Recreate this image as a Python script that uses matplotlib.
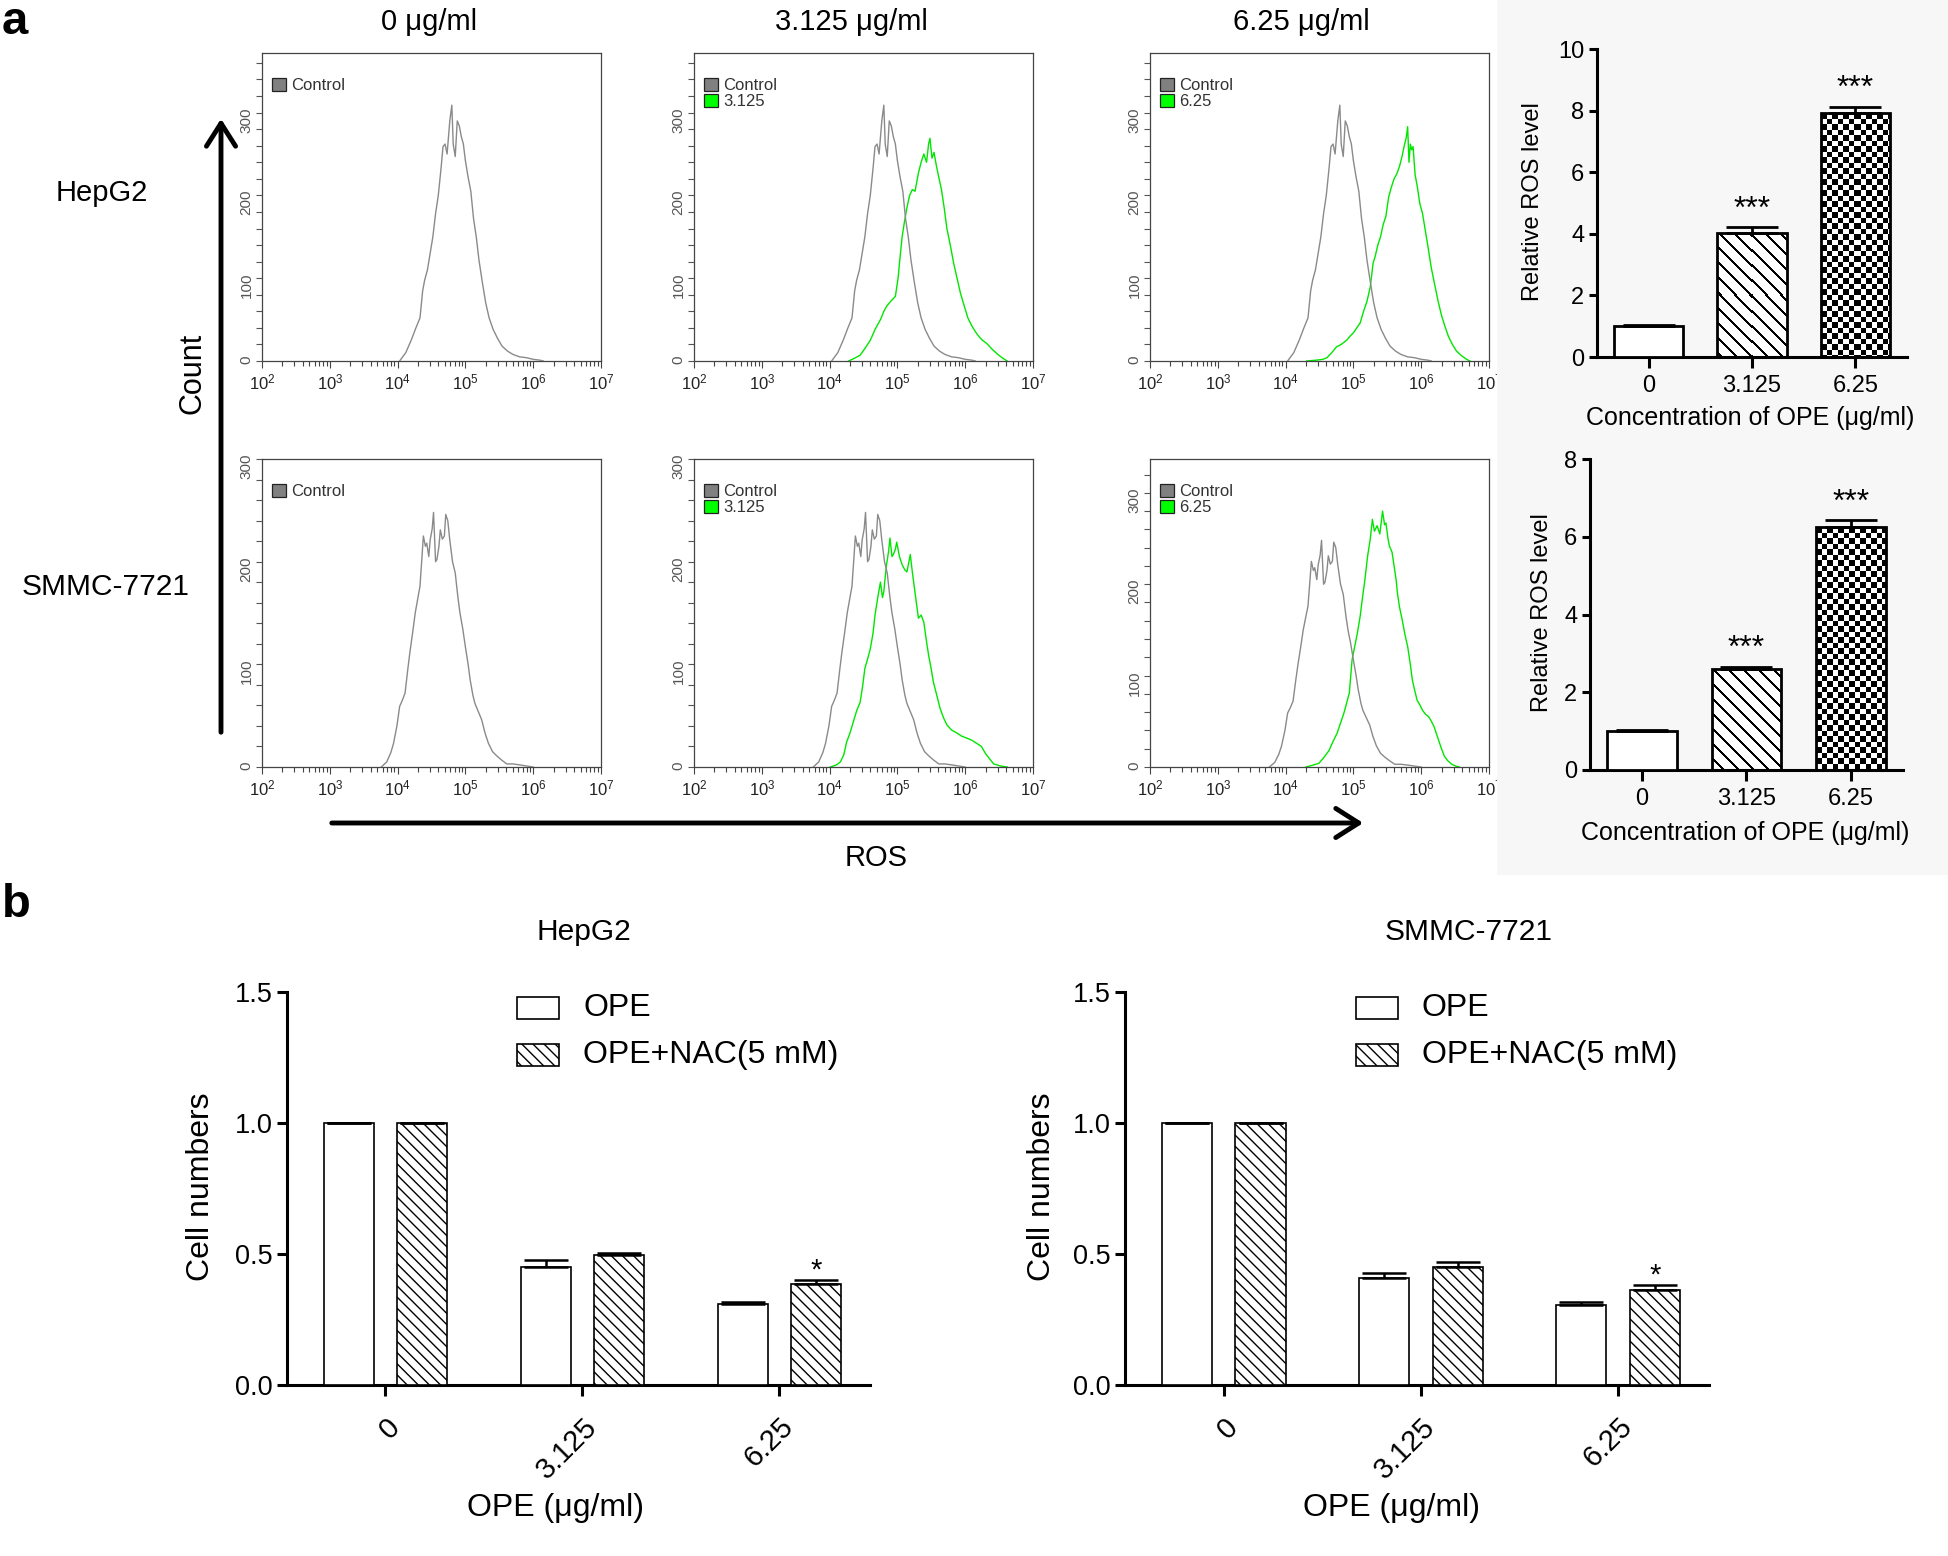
import numpy as np
import matplotlib
matplotlib.use('Agg')
import matplotlib.pyplot as plt
from matplotlib.patches import Rectangle, FancyArrowPatch
from matplotlib.ticker import FixedLocator, MultipleLocator, LogLocator, FuncFormatter, NullFormatter

plt.rcParams['font.family'] = ['Liberation Sans', 'DejaVu Sans']
plt.rcParams['mathtext.default'] = 'regular'

# ---------------- data ----------------
# flow cytometry histograms: log10(fluorescence) vs count
hep_ctrl_x = [4.03, 4.12, 4.20, 4.27, 4.33, 4.37, 4.40, 4.44, 4.48, 4.52, 4.56, 4.60, 4.64, 4.67, 4.70, 4.73,
              4.77, 4.80, 4.82, 4.85, 4.88, 4.91, 4.94, 4.97, 5.00, 5.04, 5.08, 5.12, 5.16, 5.20, 5.25, 5.30,
              5.35, 5.41, 5.47, 5.54, 5.62, 5.70, 5.80, 5.90, 6.00, 6.10, 6.15]
hep_ctrl_y = [0, 10, 25, 40, 52, 85, 98, 110, 130, 150, 178, 200, 232, 259, 262, 250, 290, 309, 262, 247, 290,
              284, 271, 262, 242, 222, 205, 172, 150, 122, 95, 70, 52, 38, 28, 18, 12, 8, 5, 4, 2, 1, 0]

hep_3125_x = [4.28, 4.36, 4.45, 4.52, 4.60, 4.67, 4.75, 4.80, 4.84, 4.90, 4.97, 5.01, 5.04, 5.07, 5.10, 5.14,
              5.18, 5.22, 5.26, 5.31, 5.35, 5.39, 5.43, 5.46, 5.48, 5.51, 5.54, 5.57, 5.61, 5.65, 5.69, 5.73,
              5.78, 5.83, 5.88, 5.93, 5.98, 6.04, 6.10, 6.17, 6.24, 6.32, 6.40, 6.48, 6.56, 6.62]
hep_3125_y = [0, 3, 7, 15, 25, 38, 50, 60, 66, 72, 78, 100, 126, 150, 166, 185, 200, 207, 205, 227, 240, 250,
              240, 262, 269, 245, 252, 238, 222, 207, 185, 160, 140, 118, 100, 82, 68, 52, 42, 33, 26, 21, 14,
              8, 3, 0]

hep_625_x = [4.31, 4.45, 4.55, 4.61, 4.68, 4.75, 4.82, 4.90, 4.95, 5.00, 5.05, 5.10, 5.15, 5.20, 5.25, 5.29,
             5.32, 5.36, 5.40, 5.44, 5.48, 5.52, 5.56, 5.60, 5.64, 5.68, 5.72, 5.75, 5.78, 5.80, 5.82, 5.84,
             5.86, 5.88, 5.91, 5.94, 5.98, 6.02, 6.06, 6.10, 6.15, 6.20, 6.25, 6.30, 6.35, 6.40, 6.46, 6.52,
             6.60, 6.67, 6.72]
hep_625_y = [0, 1, 2, 4, 10, 17, 20, 25, 30, 34, 40, 46, 60, 72, 90, 118, 126, 140, 150, 165, 175, 198, 210,
             220, 226, 235, 248, 260, 270, 283, 240, 262, 255, 259, 225, 212, 190, 178, 158, 138, 112, 92, 72,
             55, 42, 30, 20, 12, 6, 2, 0]

smmc_ctrl_x = [3.76, 3.84, 3.90, 3.94, 3.99, 4.03, 4.07, 4.11, 4.15, 4.18, 4.22, 4.26, 4.30, 4.33, 4.36, 4.38,
               4.41, 4.43, 4.46, 4.48, 4.51, 4.53, 4.56, 4.58, 4.61, 4.63, 4.66, 4.69, 4.71, 4.74, 4.77, 4.81,
               4.85, 4.89, 4.92, 4.96, 5.00, 5.04, 5.07, 5.11, 5.14, 5.19, 5.24, 5.29, 5.34, 5.40, 5.46, 5.53,
               5.61, 5.70, 5.81, 5.90, 6.00]
smmc_ctrl_y = [0, 5, 14, 23, 40, 59, 65, 72, 95, 111, 130, 150, 165, 176, 205, 225, 215, 218, 205, 221, 232,
               248, 200, 202, 215, 231, 222, 225, 246, 240, 221, 200, 189, 165, 150, 135, 117, 100, 85, 70, 62,
               54, 46, 33, 23, 15, 11, 7, 3, 3, 2, 1, 0]

smmc_3125_x = [4.01, 4.10, 4.16, 4.21, 4.25, 4.30, 4.35, 4.40, 4.45, 4.49, 4.52, 4.56, 4.60, 4.64, 4.67, 4.71,
               4.75, 4.78, 4.80, 4.82, 4.84, 4.87, 4.89, 4.92, 4.94, 4.97, 4.99, 5.03, 5.07, 5.11, 5.14, 5.17,
               5.19, 5.22, 5.24, 5.28, 5.31, 5.35, 5.39, 5.43, 5.46, 5.50, 5.53, 5.58, 5.63, 5.68, 5.73, 5.80,
               5.88, 5.95, 6.03, 6.10, 6.17, 6.24, 6.30, 6.36, 6.42, 6.52, 6.62]
smmc_3125_y = [0, 2, 5, 12, 24, 33, 44, 55, 63, 80, 96, 105, 115, 130, 148, 165, 180, 165, 171, 185, 197, 210,
               223, 205, 207, 212, 219, 205, 197, 192, 190, 200, 207, 190, 180, 160, 145, 148, 141, 122, 109, 95,
               83, 70, 57, 48, 41, 36, 33, 30, 28, 26, 23, 20, 13, 8, 3, 1, 0]

smmc_625_x = [4.30, 4.40, 4.49, 4.56, 4.64, 4.70, 4.76, 4.81, 4.86, 4.90, 4.94, 4.98, 5.02, 5.06, 5.10, 5.13,
              5.17, 5.21, 5.25, 5.28, 5.31, 5.35, 5.39, 5.43, 5.46, 5.48, 5.51, 5.53, 5.57, 5.60, 5.63, 5.65,
              5.68, 5.72, 5.76, 5.80, 5.84, 5.87, 5.91, 5.94, 5.98, 6.02, 6.06, 6.11, 6.15, 6.19, 6.24, 6.29,
              6.34, 6.39, 6.45, 6.51, 6.56]
smmc_625_y = [0, 2, 4, 10, 18, 28, 37, 48, 59, 70, 81, 117, 132, 147, 165, 183, 205, 231, 250, 271, 258, 264,
              255, 280, 265, 267, 250, 242, 235, 220, 205, 190, 175, 161, 145, 132, 112, 95, 82, 73, 68, 62, 58,
              55, 50, 44, 33, 22, 12, 7, 3, 1, 0]

dose_headers = ['0 \u03bcg/ml', '3.125 \u03bcg/ml', '6.25 \u03bcg/ml']
treat_labels = ['', '3.125', '6.25']
cell_lines = ['HepG2', 'SMMC-7721']
flow_ymax = [[372, 372, 372], [300, 300, 337]]

# relative ROS level (part a, right)
conc_labels = ['0', '3.125', '6.25']
ros_hep = [1.0, 4.03, 7.92]
ros_hep_err = [0.03, 0.18, 0.21]
ros_smmc = [1.0, 2.59, 6.25]
ros_smmc_err = [0.02, 0.07, 0.17]
ros_sig = ['', '***', '***']

# cell numbers (part b)
cell_hep_ope = [1.0, 0.449, 0.309]
cell_hep_ope_err = [0.0, 0.027, 0.008]
cell_hep_nac = [1.0, 0.497, 0.384]
cell_hep_nac_err = [0.0, 0.007, 0.018]
cell_smmc_ope = [1.0, 0.407, 0.304]
cell_smmc_ope_err = [0.0, 0.020, 0.014]
cell_smmc_nac = [1.0, 0.451, 0.363]
cell_smmc_nac_err = [0.0, 0.020, 0.019]
nac_sig = ['', '', '*']

# ---------------- figure ----------------
W, H = 1949, 1556
fig = plt.figure(figsize=(W / 100, H / 100), dpi=100)


def px_axes(l, t, r, b):
    return fig.add_axes([l / W, 1 - b / H, (r - l) / W, (b - t) / H])


# light background of the right column
bg = Rectangle((1497 / W, 1 - 875 / H), (W - 1497) / W, 875 / H, transform=fig.transFigure,
               facecolor='#f7f7f7', edgecolor='none', zorder=1)
fig.add_artist(bg)

flow_data = [
    [(hep_ctrl_x, hep_ctrl_y, None, None),
     (hep_ctrl_x, hep_ctrl_y, hep_3125_x, hep_3125_y),
     (hep_ctrl_x, hep_ctrl_y, hep_625_x, hep_625_y)],
    [(smmc_ctrl_x, smmc_ctrl_y, None, None),
     (smmc_ctrl_x, smmc_ctrl_y, smmc_3125_x, smmc_3125_y),
     (smmc_ctrl_x, smmc_ctrl_y, smmc_625_x, smmc_625_y)],
]
flow_cols_px = [(262, 601), (694, 1033), (1150, 1489)]
flow_rows_px = [(53, 361), (459, 767)]
narrow = ['Liberation Sans Narrow', 'Liberation Sans', 'DejaVu Sans']

for r in range(2):
    for c in range(3):
        l, rr = flow_cols_px[c]
        t, b = flow_rows_px[r]
        ax = px_axes(l, t, rr, b)
        cx, cy, tx, ty = flow_data[r][c]
        ax.plot(10 ** np.array(cx), cy, color='#8a8a8a', lw=1.0, zorder=3)
        if tx is not None:
            ax.plot(10 ** np.array(tx), ty, color='#00e600', lw=1.0, zorder=2)
        ax.set_xscale('log')
        ax.set_xlim(1e2, 1e7)
        ax.set_ylim(0, flow_ymax[r][c])
        ax.xaxis.set_major_locator(LogLocator(base=10, numticks=10))
        ax.xaxis.set_minor_locator(LogLocator(base=10, subs=np.arange(2, 10), numticks=100))
        ax.xaxis.set_minor_formatter(NullFormatter())
        ax.xaxis.set_major_formatter(FuncFormatter(lambda v, p: r'$10^{%d}$' % int(round(np.log10(v)))))
        ax.yaxis.set_major_locator(FixedLocator([0, 100, 200, 300]))
        ax.yaxis.set_minor_locator(MultipleLocator(20))
        ax.tick_params(axis='x', which='major', direction='out', length=5, width=0.8, colors='#444',
                       labelsize=12, pad=3, labelcolor='#222')
        ax.tick_params(axis='x', which='minor', direction='out', length=3.5, width=0.8, colors='#444')
        ax.tick_params(axis='y', which='both', direction='out', length=4, width=0.8, colors='#555',
                       labelsize=11, labelrotation=90, pad=2, labelcolor='#555')
        for lbl in ax.get_yticklabels():
            lbl.set_family(narrow)
        for sp in ax.spines.values():
            sp.set_linewidth(0.9)
            sp.set_color('#444')
        # legend squares
        entries = [('Control', '#808080')]
        if treat_labels[c]:
            entries.append((treat_labels[c], '#00ff00'))
        for i, (name, col) in enumerate(entries):
            y0 = 0.876 - i * 0.052
            ax.add_patch(Rectangle((0.03, y0), 0.040, 0.044, transform=ax.transAxes, facecolor=col,
                                   edgecolor='#222', lw=0.9, clip_on=False, zorder=5))
            ax.text(0.085, y0 + 0.020, name, transform=ax.transAxes, fontsize=12, color='#333',
                    ha='left', va='center')

# column headers and row labels
for c, txt in enumerate(dose_headers):
    fig.text([429, 851, 1301][c] / W, 1 - 22 / H, txt, fontsize=21, ha='center', va='center')
fig.text(102 / W, 1 - 193 / H, cell_lines[0], fontsize=21, ha='center', va='center')
fig.text(106 / W, 1 - 587 / H, cell_lines[1], fontsize=21.5, ha='center', va='center')
fig.text(193 / W, 1 - 373 / H, 'Count', fontsize=22, ha='center', va='center', rotation=90)
fig.text(876 / W, 1 - 858 / H, 'ROS', fontsize=21, ha='center', va='center')

arrow_style = '->,head_length=0.55,head_width=0.35'
fig.add_artist(FancyArrowPatch((221 / W, 1 - 735 / H), (221 / W, 1 - 116 / H), transform=fig.transFigure,
                               arrowstyle=arrow_style, mutation_scale=30, lw=3.5, color='black'))
fig.add_artist(FancyArrowPatch((329 / W, 1 - 823 / H), (1366 / W, 1 - 823 / H), transform=fig.transFigure,
                               arrowstyle=arrow_style, mutation_scale=30, lw=3.5, color='black'))

fig.text(2 / W, 1 - 34 / H, 'a', fontsize=34, fontweight='bold', ha='left', va='baseline')
fig.text(2 / W, 1 - 917 / H, 'b', fontsize=34, fontweight='bold', ha='left', va='baseline')


# ---------------- ROS bar charts ----------------
def add_texture(ax, bar, kind):
    bb = bar.get_window_extent()
    wpx, hpx = max(int(round(bb.width)), 1), max(int(round(bb.height)), 1)
    rr_, cc_ = np.mgrid[0:hpx, 0:wpx]
    if kind == 'stripe':
        mask = ((cc_ - rr_) % 15) < 3
    else:
        mask = ((np.floor(rr_ / 5.5) + np.floor(cc_ / 5.5)) % 2) == 0
    img = np.where(mask, 0.0, 1.0)
    x0, w, h = bar.get_x(), bar.get_width(), bar.get_height()
    im = ax.imshow(img, cmap='gray', vmin=0, vmax=1, extent=[x0, x0 + w, 0, h], origin='upper',
                   aspect='auto', interpolation='nearest', zorder=2)
    im.set_clip_path(bar)


def ros_chart(box, vals, errs, ymax, ystep, xlab_xy, ylab_xy):
    ax = px_axes(*box)
    ax.set_zorder(2)
    ax.patch.set_visible(False)
    x = np.arange(len(vals))
    bars = ax.bar(x, vals, width=0.67, color=['white', 'none', 'none'], edgecolor='black',
                  linewidth=2.0, zorder=3)
    ax.errorbar(x, vals, yerr=[np.zeros(len(vals)), errs], fmt='none', ecolor='black',
                elinewidth=2.0, capsize=19, capthick=2.0, zorder=4)
    ax.set_xlim(-0.5, 2.5)
    ax.set_ylim(0, ymax)
    add_texture(ax, bars[1], 'stripe')
    add_texture(ax, bars[2], 'checker')
    ax.set_xlim(-0.5, 2.5)
    ax.set_ylim(0, ymax)
    for xi, v, e, s in zip(x, vals, errs, ros_sig):
        if s:
            ax.annotate(s, (xi, v + e), xytext=(0, 7), textcoords='offset points', ha='center',
                        va='baseline', fontsize=23)
    ax.set_yticks(np.arange(0, ymax + 0.01, ystep))
    ax.set_xticks(x, conc_labels)
    for sp in ['top', 'right']:
        ax.spines[sp].set_visible(False)
    for sp in ['left', 'bottom']:
        ax.spines[sp].set_linewidth(2.2)
    ax.tick_params(axis='y', direction='out', length=6, width=2.2, labelsize=17, pad=3)
    ax.tick_params(axis='x', direction='out', length=8, width=2.2, labelsize=17, pad=5)
    ax.set_xlabel('Concentration of OPE (\u03bcg/ml)', fontsize=18, va='center')
    ax.set_ylabel('Relative ROS level', fontsize=17, va='center')
    ax.xaxis.set_label_coords(*xlab_xy)
    ax.yaxis.set_label_coords(*ylab_xy)
    return ax


ros_chart((1597, 49, 1907, 357), ros_hep, ros_hep_err, 10, 2, (0.494, -0.198), (-0.206, 0.506))
ros_chart((1590, 459, 1903, 770), ros_smmc, ros_smmc_err, 8, 2, (0.495, -0.203), (-0.153, 0.505))

NAC_HATCH = '\\\\\\'


# ---------------- cell number charts ----------------
def cell_chart(box, ope, ope_err, nac, nac_err, title, title_xy, xlab_xy, ylab_xy):
    ax = px_axes(*box)
    x = np.arange(len(ope))
    off, w = 0.187, 0.254
    ax.bar(x - off, ope, w, color='white', edgecolor='black', linewidth=1.2, zorder=3, label='OPE')
    ax.bar(x + off, nac, w, color='white', edgecolor='black', linewidth=1.2, hatch=NAC_HATCH, zorder=3,
           label='OPE+NAC(5 mM)')
    ax.errorbar(x - off, ope, yerr=[np.zeros(3), ope_err], fmt='none', ecolor='black', elinewidth=1.8,
                capsize=16, capthick=1.8, zorder=4)
    ax.errorbar(x + off, nac, yerr=[np.zeros(3), nac_err], fmt='none', ecolor='black', elinewidth=1.8,
                capsize=16, capthick=1.8, zorder=4)
    for xi, v, e, s in zip(x, nac, nac_err, nac_sig):
        if s:
            ax.annotate(s, (xi + off, v + e), xytext=(0, 1), textcoords='offset points', ha='center',
                        va='baseline', fontsize=21)
    ax.set_xlim(-0.5, 2.46)
    ax.set_ylim(0, 1.5)
    ax.set_yticks([0.0, 0.5, 1.0, 1.5], ['0.0', '0.5', '1.0', '1.5'])
    ax.set_xticks(x, conc_labels, rotation=45, ha='right', rotation_mode='anchor')
    for sp in ['top', 'right']:
        ax.spines[sp].set_visible(False)
    for sp in ['left', 'bottom']:
        ax.spines[sp].set_linewidth(2.2)
    ax.tick_params(axis='y', direction='out', length=7, width=2.2, labelsize=19.5, pad=3)
    ax.tick_params(axis='x', direction='out', length=8, width=2.2, labelsize=21, pad=12)
    ax.set_xlabel('OPE (\u03bcg/ml)', fontsize=23, va='center')
    ax.set_ylabel('Cell numbers', fontsize=23, va='center')
    ax.xaxis.set_label_coords(*xlab_xy)
    ax.yaxis.set_label_coords(*ylab_xy)
    # legend
    for i, (name, hatch) in enumerate([('OPE', None), ('OPE+NAC(5 mM)', NAC_HATCH)]):
        y0 = 0.931 - i * 0.119
        ax.add_patch(Rectangle((0.395, y0), 0.072, 0.056, transform=ax.transAxes, facecolor='white',
                               edgecolor='black', lw=1.2, hatch=hatch, clip_on=False))
        ax.text(0.508, y0 + 0.028, name, transform=ax.transAxes, fontsize=23, ha='left', va='center')
    fig.text(title_xy[0] / W, 1 - title_xy[1] / H, title, fontsize=21.5, ha='center', va='center')
    return ax


cell_chart((287, 992, 870, 1385), cell_hep_ope, cell_hep_ope_err, cell_hep_nac, cell_hep_nac_err,
           cell_lines[0], (584, 932), (0.461, -0.313), (-0.148, 0.504))
cell_chart((1125, 992, 1709, 1385), cell_smmc_ope, cell_smmc_ope_err, cell_smmc_nac, cell_smmc_nac_err,
           cell_lines[1], (1469, 932), (0.457, -0.313), (-0.142, 0.504))

fig.savefig('out.png', dpi=100)
